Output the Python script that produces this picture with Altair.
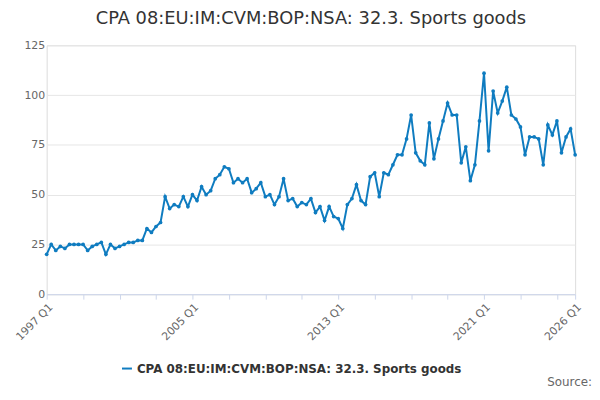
import altair as alt
import pandas as pd

series_name = "CPA 08:EU:IM:CVM:BOP:NSA: 32.3. Sports goods"
values = [
    20, 25, 22, 24, 23, 25, 25, 25, 25, 22, 24, 25, 26, 20, 25, 23,
    24, 25, 26, 26, 27, 27, 33, 31, 34, 36, 49, 43, 45, 44, 49, 44,
    50, 47, 54, 50, 52, 58, 60, 64, 63, 56, 58, 56, 58, 51, 53, 56,
    49, 50, 45, 49, 58, 47, 48, 44, 46, 45, 48, 41, 44, 37, 44, 39,
    38, 33, 45, 48, 55, 47, 45, 59, 61, 49, 61, 60, 65, 70, 70, 78,
    90, 71, 67, 65, 86, 68, 78, 87, 96, 90, 90, 66, 74, 57, 65, 87,
    111, 72, 102, 91, 97, 104, 90, 88, 84, 70, 79, 79, 78, 65, 85, 80,
    87, 71, 79, 83, 70,
]
labels = [f"{1997 + i // 4} Q{i % 4 + 1}" for i in range(len(values))]

df = pd.DataFrame({"i": range(len(values)), "value": values, "period": labels, "series": series_name})
n = len(values) - 1
tick_vals = list(range(0, n, 8)) + [n]
label_expr = ("datum.value % 32 == 0 || datum.value == 116 ? "
              "(1997 + floor(datum.value / 4)) + ' Q' + (datum.value % 4 + 1) : ''")

chart = (
    alt.Chart(df)
    .mark_line(color="#0f7cc0", strokeWidth=2, point=alt.OverlayMarkDef(color="#0f7cc0", size=14))
    .encode(
        x=alt.X("i:Q", scale=alt.Scale(domain=[0, n], nice=False),
                axis=alt.Axis(title=None, values=tick_vals, labelExpr=label_expr, labelAngle=-45,
                              grid=False, labelColor="#666", labelFontSize=11, tickColor="#ccd6eb",
                              domainColor="#ccd6eb", labelOverlap=False, labelBound=False)),
        y=alt.Y("value:Q", scale=alt.Scale(domain=[0, 125]),
                axis=alt.Axis(title=None, values=[0, 25, 50, 75, 100, 125], gridColor="#e6e6e6",
                              domain=False, ticks=False, labelColor="#666", labelFontSize=11)),
        color=alt.Color("series:N", scale=alt.Scale(range=["#0f7cc0"]),
                        legend=alt.Legend(title=None, orient="none", legendX=75, legendY=320,
                                          labelFontSize=12, labelFontWeight="bold", labelColor="#333",
                                          symbolType="stroke", symbolStrokeWidth=2, labelLimit=500)),
        tooltip=["period", "value"],
    )
    .properties(width=533, height=251)
)

source = alt.Chart(pd.DataFrame({"t": ["Source:"]})).mark_text(
    align="right", fontSize=12, color="#666"
).encode(x=alt.value(550), y=alt.value(340), text="t:N")

out = (
    (chart + source)
    .properties(
        padding={"left": 5, "top": 0, "right": 0, "bottom": 0},
        title=alt.Title(series_name, fontSize=18, fontWeight="normal", color="#333", offset=12),
    )
    .configure_view(stroke=None)
    .configure(font="DejaVu Sans")
)
out.save("out.html", embed_options={"renderer": "svg", "actions": False})
